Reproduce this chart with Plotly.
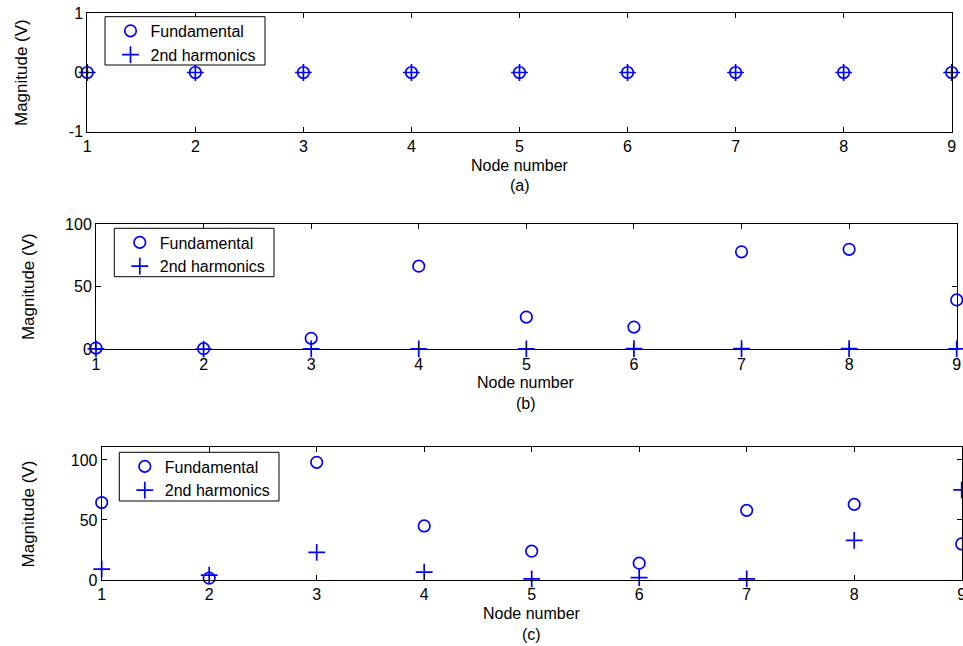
import plotly.graph_objects as go

nodes = [1, 2, 3, 4, 5, 6, 7, 8, 9]

fund_a = [0, 0, 0, 0, 0, 0, 0, 0, 0]
harm_a = [0, 0, 0, 0, 0, 0, 0, 0, 0]

fund_b = [1, 0.5, 8.8, 66.5, 25.8, 17.8, 78, 80, 39.5]
harm_b = [0.3, 0.2, 0.3, 0.3, 0.3, 0.5, 0.5, 0.5, 0.3]

fund_c = [64.5, 1.5, 98, 45, 24, 14, 58, 63, 30]
harm_c = [9, 4, 23, 6.5, 1, 2, 1, 33, 75]

W, H = 963, 646
FONT = "Liberation Sans, Arial, sans-serif"
BLUE = "#0000ff"

panels = [
    dict(fund=fund_a, harm=harm_a, x0=87.3, x1=951.7, top=13.3, bot=131.7,
         yr=[-1, 1], tv=[-1, 0, 1], tt=["-1", "0", "1"], lbl="(a)",
         box=(105, 16.7, 265, 65), ytx=21.5),
    dict(fund=fund_b, harm=harm_b, x0=96, x1=956.7, top=224.3, bot=349.3,
         yr=[0, 100], tv=[0, 50, 100], tt=["0", "50", "100"], lbl="(b)",
         box=(114.3, 228.3, 274, 276.7), ytx=28.3),
    dict(fund=fund_c, harm=harm_c, x0=101.7, x1=961.7, top=447.3, bot=580,
         yr=[0, 110.5], tv=[0, 50, 100], tt=["0", "50", "100"], lbl="(c)",
         box=(119.3, 452.3, 279, 501), ytx=28.8),
]

fig = go.Figure()
layout = dict(
    width=W, height=H, margin=dict(l=0, r=0, t=0, b=0, autoexpand=False),
    paper_bgcolor="white", plot_bgcolor="white",
    font=dict(family=FONT, size=16, color="black"),
    annotations=[], shapes=[],
)

for i, p in enumerate(panels):
    k = "" if i == 0 else str(i + 1)
    xa, ya = "x" + k, "y" + k
    leg = "legend" + k
    fig.add_trace(go.Scatter(
        x=nodes, y=p["fund"], mode="markers", name="Fundamental",
        xaxis=xa, yaxis=ya, legend=leg, cliponaxis=False,
        marker=dict(symbol="circle-open", size=11.5, color=BLUE,
                    line=dict(width=1.7, color=BLUE))))
    fig.add_trace(go.Scatter(
        x=nodes, y=p["harm"], mode="markers", name="2nd harmonics",
        xaxis=xa, yaxis=ya, legend=leg, cliponaxis=False,
        marker=dict(symbol="cross-thin-open", size=12, color=BLUE,
                    line=dict(width=1.7, color=BLUE))))
    xd = [p["x0"] / W, p["x1"] / W]
    yd = [1 - p["bot"] / H, 1 - p["top"] / H]
    axcommon = dict(showline=True, linecolor="black", linewidth=1,
                    mirror="allticks", ticks="inside", ticklen=5,
                    tickcolor="black", showgrid=False, zeroline=False,
                    automargin=False,
                    tickfont=dict(family=FONT, size=16, color="black"))
    layout["xaxis" + k] = dict(domain=xd, range=[1, 9], tickvals=nodes,
                               anchor=ya, ticklabeloverflow="allow",
                               **axcommon)
    layout["yaxis" + k] = dict(domain=yd, range=p["yr"], tickvals=p["tv"],
                               ticktext=p["tt"], anchor=xa,
                               ticklabelstandoff=0, **axcommon)
    bx0, by0, bx1, by1 = p["box"]
    layout["shapes"].append(dict(
        type="rect", xref="paper", yref="paper", layer="above",
        x0=bx0 / W, x1=bx1 / W, y0=1 - by1 / H, y1=1 - by0 / H,
        fillcolor="white", line=dict(color="black", width=1)))
    layout[leg] = dict(x=(bx0 + 5.5) / W, y=1 - (by0 - 2.8) / H,
                       xanchor="left", yanchor="top",
                       bgcolor="rgba(0,0,0,0)", borderwidth=0,
                       font=dict(family=FONT, size=16, color="black"),
                       itemwidth=30, tracegroupgap=0)
    xc = (p["x0"] + p["x1"]) / 2 / W
    layout["annotations"] += [
        dict(text="Node number", xref="paper", yref="paper", x=xc,
             y=1 - (p["bot"] + 33.5) / H, xanchor="center", yanchor="middle",
             showarrow=False, font=dict(size=16)),
        dict(text=p["lbl"], xref="paper", yref="paper", x=xc,
             y=1 - (p["bot"] + 54) / H, xanchor="center", yanchor="middle",
             showarrow=False, font=dict(size=16)),
        dict(text="Magnitude (V)", xref="paper", yref="paper",
             x=p["ytx"] / W, y=1 - (p["top"] + p["bot"]) / 2 / H,
             xanchor="center", yanchor="middle", textangle=-90,
             showarrow=False, font=dict(size=17)),
    ]

fig.update_layout(**layout)
fig.write_html(
    "out.html",
    post_script="document.body.style.margin='0';document.body.style.overflow='hidden';",
)
